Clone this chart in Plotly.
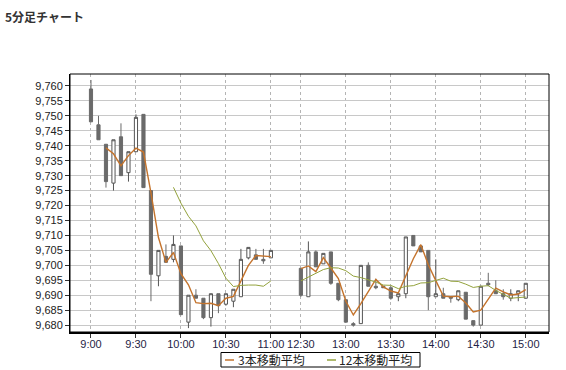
import plotly.graph_objects as go

# time slots (category axis); three blank spacer slots for the lunch gap
times = ["9:00", "9:05", "9:10", "9:15", "9:20", "9:25", "9:30", "9:35", "9:40", "9:45",
         "9:50", "9:55", "10:00", "10:05", "10:10", "10:15", "10:20", "10:25", "10:30",
         "10:35", "10:40", "10:45", "10:50", "10:55", "11:00",
         " ", "  ", "   ",
         "12:30", "12:35", "12:40", "12:45", "12:50", "12:55", "13:00", "13:05", "13:10",
         "13:15", "13:20", "13:25", "13:30", "13:35", "13:40", "13:45", "13:50", "13:55",
         "14:00", "14:05", "14:10", "14:15", "14:20", "14:25", "14:30", "14:35", "14:40",
         "14:45", "14:50", "14:55", "15:00"]

N = None
opens = [9759, 9747, 9740.5, 9727.5, 9743, 9731, 9738, 9750.5, 9725, 9696.5,
         9703, 9702, 9706.5, 9681, 9690, 9689, 9682.5, 9690.5, 9687, 9688,
         9689.5, 9702.5, 9703.5, 9702, 9702.5,
         N, N, N,
         9699, 9689.5, 9704.5, 9700.5, 9704.5, 9694, 9688.5, 9680.5, 9680.5, 9700,
         9693, 9693, 9692.5, 9689.5, 9690.5, 9710, 9706.5, 9705, 9689.5, 9690.5,
         9689.5, 9688.5, 9691, 9681.5, 9680, 9694, 9691.5, 9690.5, 9689, 9690.5, 9689]
highs = [9762, 9750, 9740.5, 9742, 9747.5, 9738, 9750.5, 9750.5, 9725, 9705,
         9707, 9710, 9706.5, 9690, 9692, 9689, 9690.5, 9690.5, 9690.5, 9692,
         9705.5, 9706, 9705.5, 9705.5, 9705,
         N, N, N,
         9699, 9708, 9705, 9704, 9704.5, 9694, 9688.5, 9681, 9700, 9701,
         9695.5, 9693, 9693, 9690.5, 9709.5, 9710, 9706.5, 9705, 9702, 9692.5,
         9689.5, 9691.5, 9691, 9681.5, 9693, 9697.5, 9695, 9692, 9692, 9691.5, 9694]
lows = [9748, 9742, 9726, 9725, 9730, 9728, 9738, 9726, 9688, 9693,
        9701, 9701, 9683.5, 9679, 9689, 9682, 9679.5, 9684, 9686.5, 9686,
        9689.5, 9702, 9702, 9700.5, 9702.5,
        N, N, N,
        9689.5, 9689.5, 9699.5, 9700.5, 9693.5, 9688, 9681, 9679.5, 9680.5, 9693,
        9692, 9692.5, 9688.5, 9688, 9689, 9706.5, 9704.5, 9685, 9689.5, 9689,
        9687.5, 9688, 9682, 9679.5, 9680, 9693, 9690.5, 9688.5, 9688, 9688, 9689]
closes = [9748, 9742, 9728, 9742, 9730, 9738, 9749.5, 9726, 9697, 9705,
          9701, 9707, 9683.5, 9690, 9689, 9682.5, 9690.5, 9686.5, 9690.5, 9692,
          9702, 9706, 9702, 9701.5, 9705,
          N, N, N,
          9690, 9704.5, 9699.5, 9704, 9694, 9688.5, 9681, 9680, 9700, 9693,
          9692.5, 9692.5, 9689, 9690.5, 9709.5, 9706.5, 9704.5, 9689.5, 9690.5, 9689,
          9689, 9691.5, 9682, 9680, 9693, 9693.5, 9690.5, 9689.5, 9690.5, 9691.5, 9694]

ma3 = [N, N, 9739.3, 9737.3, 9733.3, 9736.7, 9739.2, 9737.9, 9724.2, 9709.3,
       9701.0, 9704.3, 9697.2, 9693.5, 9687.5, 9687.2, 9687.3, 9686.5, 9689.0, 9689.6,
       9694.8, 9700.0, 9703.3, 9703.2, 9702.9,
       N, N, N,
       9698.9, 9699.8, 9697.9, 9702.6, 9699.1, 9695.6, 9688.0, 9683.4, 9687.2, 9691.2,
       9695.3, 9692.8, 9691.4, 9690.8, 9696.3, 9702.2, 9706.9, 9700.2, 9694.9, 9689.7,
       9689.5, 9689.7, 9687.4, 9684.4, 9685.0, 9688.8, 9692.4, 9691.1, 9690.1, 9690.4, 9691.9]
ma12 = [N, N, N, N, N, N, N, N, N, N,
        N, 9726.1, 9720.8, 9716.4, 9713.2, 9708.2, 9704.9, 9700.6, 9695.7, 9692.9,
        9693.3, 9693.4, 9693.4, 9693.0, 9694.8,
        N, N, N,
        9694.8, 9696.1, 9697.5, 9698.6, 9699.2, 9699.1, 9698.2, 9696.4, 9695.9, 9695.2,
        9694.4, 9693.4, 9693.3, 9692.2, 9693.0, 9693.2, 9694.1, 9694.2, 9694.9, 9695.7,
        9694.7, 9694.6, 9693.7, 9692.6, 9693.0, 9693.2, 9691.6, 9690.2, 9689.0, 9689.2, 9689.4]

tick_labels = ["9:00", "9:30", "10:00", "10:30", "11:00", "12:30", "13:00",
               "13:30", "14:00", "14:30", "15:00"]
y_ticks = list(range(9680, 9761, 5))
legend_names = ["3本移動平均", "12本移動平均"]

C_MA3 = "#c4732c"
C_MA12 = "#93a23c"

fig = go.Figure()
fig.add_trace(go.Candlestick(
    x=times, open=opens, high=highs, low=lows, close=closes,
    increasing=dict(fillcolor="white", line=dict(color="#555555", width=1)),
    decreasing=dict(fillcolor="#6a6a6a", line=dict(color="#6a6a6a", width=1)),
    whiskerwidth=0, showlegend=False, hoverinfo="skip"))
fig.add_trace(go.Scatter(x=times, y=ma3, mode="lines", name=legend_names[0],
                         line=dict(color=C_MA3, width=1.4), connectgaps=False,
                         showlegend=False))
fig.add_trace(go.Scatter(x=times, y=ma12, mode="lines", name=legend_names[1],
                         line=dict(color=C_MA12, width=1), connectgaps=False,
                         showlegend=False))

# legend box drawn below the plot (paper coordinates)
LY = -0.1085
legend_shapes = [
    dict(type="rect", xref="paper", yref="paper", x0=0.3152, x1=0.7307,
         y0=-0.1357, y1=-0.0795, line=dict(color="black", width=1),
         fillcolor="white", layer="above"),
    dict(type="line", xref="paper", yref="paper", x0=0.3236, x1=0.3424, y0=LY, y1=LY,
         line=dict(color=C_MA3, width=1.5)),
    dict(type="line", xref="paper", yref="paper", x0=0.5365, x1=0.5553, y0=LY, y1=LY,
         line=dict(color=C_MA12, width=1.5)),
]
legend_ann = [
    dict(text=legend_names[0], xref="paper", yref="paper", x=0.3466, y=LY,
         xanchor="left", yanchor="middle", showarrow=False,
         font=dict(family="Noto Sans CJK JP", size=12, color="#222222")),
    dict(text=legend_names[1], xref="paper", yref="paper", x=0.5574, y=LY,
         xanchor="left", yanchor="middle", showarrow=False,
         font=dict(family="Noto Sans CJK JP", size=12, color="#222222")),
]

fig.update_layout(
    width=566, height=370,
    margin=dict(l=70, r=17, t=74, b=38, autoexpand=False),
    paper_bgcolor="white", plot_bgcolor="white",
    boxgap=0.4,
    font=dict(family="Liberation Sans, Arial, sans-serif", size=11, color="#222222"),
    title=dict(text="<b>5分足チャート</b>", xref="container", yref="container",
               x=5 / 566, y=1 - 18 / 370, xanchor="left", yanchor="middle",
               font=dict(family="Noto Sans CJK JP", size=12, color="#333333")),
    showlegend=False,
    xaxis=dict(type="category", categoryorder="array", categoryarray=times,
               range=[-2.8, 61.1], rangeslider=dict(visible=False),
               tickmode="array", tickvals=tick_labels, ticktext=tick_labels,
               showgrid=True, gridcolor="#b4b4b4", griddash="dot", gridwidth=1,
               ticks="outside", ticklen=4, tickcolor="#333333",
               ticklabelstandoff=-3,
               showline=True, linecolor="black", linewidth=2, mirror=False,
               tickfont=dict(color="#1f2446", size=11), zeroline=False),
    yaxis=dict(range=[9677.7, 9764.0], tickmode="array", tickvals=y_ticks,
               tickformat=",d", showgrid=True, gridcolor="#c8c8c8", gridwidth=1,
               ticks="outside", ticklen=4, tickcolor="#333333",
               showline=True, linecolor="black", linewidth=1, mirror=False,
               tickfont=dict(color="#222222", size=11), zeroline=False),
    shapes=[dict(type="rect", xref="paper", yref="paper", x0=0, x1=1, y0=0, y1=1,
                 line=dict(color="black", width=1), fillcolor="rgba(0,0,0,0)")]
           + legend_shapes,
    annotations=legend_ann,
)

fig.write_html("out.html")
